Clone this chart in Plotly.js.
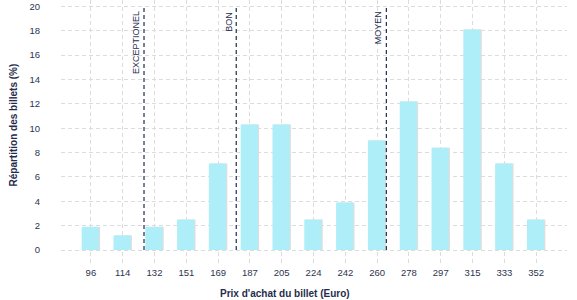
<!DOCTYPE html>
<html>
<head>
<meta charset="utf-8">
<script src="https://cdn.plot.ly/plotly-3.0.1.min.js"></script>
<style>html,body{margin:0;padding:0;background:#fff;}#chart{width:577px;height:300px;}</style>
</head>
<body>
<div id="chart"></div>
<script>
var prices = ["96","114","132","151","169","187","205","224","242","260","278","297","315","333","352"];
var shares = [1.9, 1.2, 1.9, 2.5, 7.1, 10.3, 10.3, 2.5, 3.9, 9.0, 12.2, 8.4, 18.1, 7.1, 2.5];
var thresholdNames = ["EXCEPTIONEL", "BON", "MOYEN"];
var thresholdPos = [1.67, 4.57, 9.29];
var yTicks = [0, 2, 4, 6, 8, 10, 12, 14, 16, 18, 20];
var xTitle = "Prix d'achat du billet (Euro)";
var yTitle = "Répartition des billets (%)";

var navy = "#1f2d4d";
var font = "Liberation Sans, Arial, sans-serif";

var shadow = {
  type: "bar", x: prices, y: shares, width: 0.54, offset: -0.25,
  marker: {color: "#dedede"}, hoverinfo: "skip", showlegend: false
};
var bars = {
  type: "bar", x: prices, y: shares, width: 0.54, offset: -0.29,
  marker: {color: "#aeeef8"}, showlegend: false
};

var shapes = [], annotations = [];
for (var i = 0; i < thresholdPos.length; i++) {
  shapes.push({type: "line", xref: "x", yref: "y", x0: thresholdPos[i], x1: thresholdPos[i], y0: 0, y1: 20,
    line: {color: navy, width: 1.2, dash: "4px,3px"}});
  annotations.push({xref: "x", yref: "y", x: thresholdPos[i], y: 19.75, text: thresholdNames[i],
    textangle: -90, xanchor: "right", yanchor: "top", xshift: -1, showarrow: false,
    font: {family: font, size: 9, color: navy}});
}
annotations.push({xref: "paper", yref: "paper", x: 0.443, y: -0.106, text: "<b>" + xTitle + "</b>",
  showarrow: false, xanchor: "center", yanchor: "middle", font: {family: font, size: 10, color: navy}});
annotations.push({xref: "paper", yref: "paper", x: -0.093, y: 0.53, text: "<b>" + yTitle + "</b>",
  textangle: -90, showarrow: false, xanchor: "center", yanchor: "middle", font: {family: font, size: 10, color: navy}});

var layout = {
  width: 577, height: 300,
  margin: {l: 61, r: 10, t: 0, b: 35},
  paper_bgcolor: "#fff", plot_bgcolor: "#fff",
  barmode: "overlay",
  font: {family: font, size: 9.5, color: "#2b3550"},
  xaxis: {type: "category", range: [-0.94, 14.97], showgrid: true, gridcolor: "#dcdcdc", griddash: "4px,3px",
    gridwidth: 1, zeroline: false, showline: false, ticks: "", tickfont: {size: 9.5, color: "#2b3550"}},
  yaxis: {range: [-1.23, 20.53], tickvals: yTicks, showgrid: true, gridcolor: "#dcdcdc", griddash: "4px,3px",
    gridwidth: 1, zeroline: false, showline: false, ticks: "", ticklabelstandoff: 20,
    tickfont: {size: 9.5, color: "#2b3550"}},
  shapes: shapes,
  annotations: annotations
};
Plotly.newPlot("chart", [shadow, bars], layout, {displayModeBar: false, staticPlot: true});
</script>
</body>
</html>
